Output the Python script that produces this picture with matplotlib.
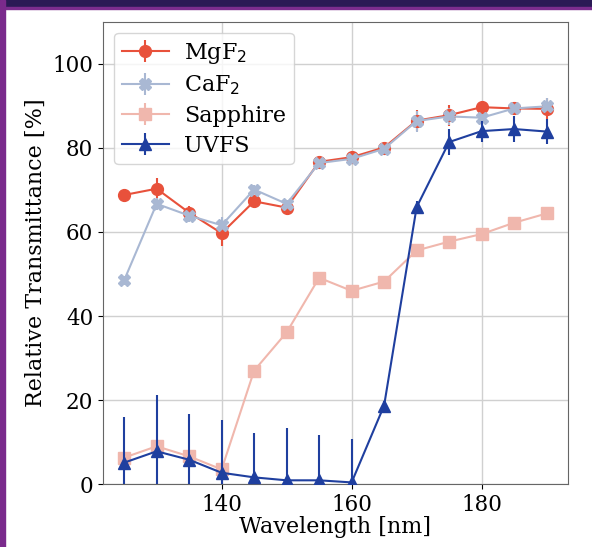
import matplotlib
matplotlib.use('Agg')
import matplotlib.pyplot as plt
from matplotlib.patches import Rectangle

wavelength = [125, 130, 135, 140, 145, 150, 155, 160, 165, 170, 175, 180, 185, 190]

mgf2 = [68.8, 70.3, 64.6, 59.7, 67.3, 65.8, 76.7, 77.8, 80.1, 86.5, 87.8, 89.7, 89.4, 89.3]
mgf2_err = [1.0, 2.5, 1.5, 3.0, 1.0, 1.0, 1.0, 1.0, 1.0, 2.5, 2.5, 1.5, 1.5, 2.5]

caf2 = [48.5, 66.7, 63.9, 61.6, 70.1, 66.7, 76.4, 77.4, 79.8, 86.4, 87.5, 87.2, 89.4, 89.9]
caf2_err = [1.0, 1.5, 1.5, 2.0, 1.0, 1.0, 1.0, 1.0, 1.0, 2.5, 2.0, 1.0, 1.5, 2.0]

sapphire = [6.3, 9.0, 6.6, 3.5, 27.0, 36.1, 49.1, 46.0, 48.2, 55.6, 57.7, 59.5, 62.2, 64.4]
sapphire_err = [0.5, 0.5, 0.5, 0.5, 0.5, 0.5, 0.5, 0.5, 0.5, 0.5, 0.5, 0.5, 0.5, 0.5]

uvfs = [5.1, 7.8, 5.8, 2.7, 1.6, 0.9, 0.9, 0.4, 18.7, 65.9, 81.4, 84.0, 84.5, 83.9]
uvfs_err = [10.8, 13.5, 10.8, 12.6, 10.6, 12.5, 10.9, 10.4, 1.0, 1.5, 3.0, 2.5, 3.0, 3.0]

plt.rcParams['font.family'] = 'DejaVu Serif'

fig = plt.figure(figsize=(5.92, 5.47), dpi=100)
ax = fig.add_axes([0.174, 0.115, 0.785, 0.845])

ax.errorbar(wavelength, mgf2, yerr=mgf2_err, marker='o', markersize=8.5,
            color='#e8513b', label='MgF$_2$', zorder=4)
ax.errorbar(wavelength, caf2, yerr=caf2_err, marker='X', markersize=8.5,
            color='#a9b8d3', label='CaF$_2$', zorder=4)
ax.errorbar(wavelength, sapphire, yerr=sapphire_err, marker='s', markersize=8.5,
            color='#f0b7ad', label='Sapphire', zorder=3)
ax.errorbar(wavelength, uvfs, yerr=uvfs_err, marker='^', markersize=8.5,
            color='#1f3f9f', label='UVFS', zorder=5)

ax.set_ylim(0, 110)
ax.set_xticks([140, 160, 180])
ax.set_yticks([0, 20, 40, 60, 80, 100])
ax.tick_params(labelsize=15.5)
ax.set_xlabel('Wavelength [nm]', fontsize=16, labelpad=0)
ax.set_ylabel('Relative Transmittance [%]', fontsize=16, labelpad=4)
ax.grid(True, color='#d0d0d0', linewidth=1)
ax.set_axisbelow(True)
for s in ax.spines.values():
    s.set_color('#666666')
ax.legend(loc='upper left', fontsize=16, handlelength=2.1, borderpad=0.35,
          labelspacing=0.35, handletextpad=0.7)

# slide frame around the screenshot
fig.patches.append(Rectangle((0, 0.985), 1, 0.015, transform=fig.transFigure,
                             color='#2a1a55', zorder=-1))
fig.patches.append(Rectangle((0, 0.983), 1, 0.004, transform=fig.transFigure,
                             color='#7b2d8e', zorder=-1))
fig.patches.append(Rectangle((0, 0), 0.009, 1, transform=fig.transFigure,
                             color='#7a2a8c', zorder=-1))

fig.savefig('out.png', dpi=100)
